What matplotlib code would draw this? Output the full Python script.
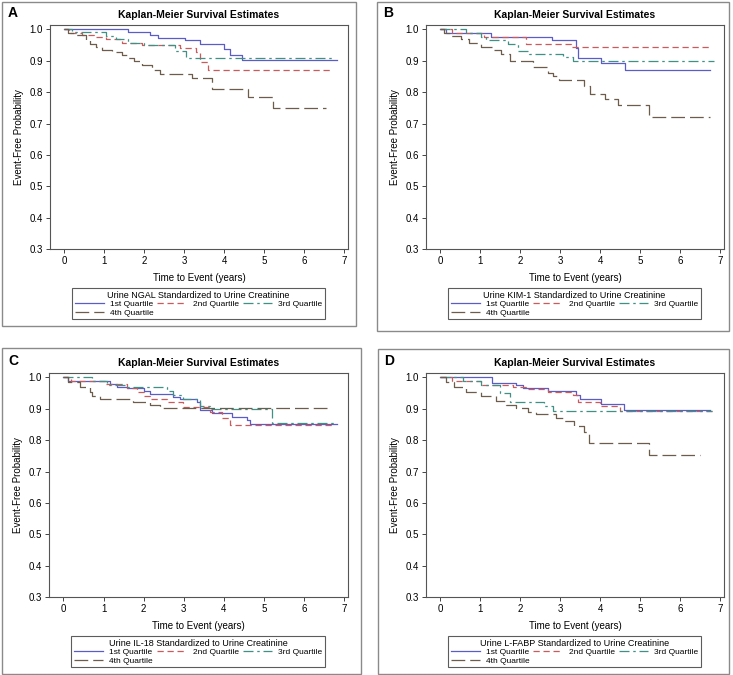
import matplotlib
matplotlib.use('Agg')
import matplotlib.pyplot as plt
from matplotlib.patches import Rectangle
from matplotlib.lines import Line2D

plt.rcParams['font.family'] = ['Liberation Sans', 'DejaVu Sans']

W, H = 733, 675

# survival steps: times (years) and event-free probability
A_q1_t = [0, 1.58, 2.14, 2.35, 3.02, 3.40, 4.00, 4.14, 4.43, 6.81]
A_q1_s = [1.0, 0.991, 0.983, 0.974, 0.965, 0.953, 0.937, 0.918, 0.901, 0.901]
A_q2_t = [0, 0.12, 0.45, 0.75, 1.05, 1.45, 1.95, 2.9, 3.3, 3.4, 3.6, 6.68]
A_q2_s = [1.0, 0.99, 0.981, 0.975, 0.968, 0.958, 0.951, 0.942, 0.928, 0.897, 0.872, 0.872]
A_q3_t = [0, 0.2, 1.05, 1.3, 1.6, 2.0, 2.76, 3.05, 6.77]
A_q3_s = [1.0, 0.992, 0.979, 0.968, 0.958, 0.951, 0.932, 0.908, 0.908]
A_q4_t = [0, 0.1, 0.3, 0.55, 0.65, 0.8, 0.95, 1.2, 1.45, 1.6, 1.75, 1.95, 2.2, 2.4, 3.2, 3.7, 4.6, 5.22, 6.55]
A_q4_s = [1.0, 0.99, 0.982, 0.965, 0.955, 0.944, 0.935, 0.928, 0.917, 0.908, 0.898, 0.887, 0.872, 0.857, 0.845, 0.81, 0.786, 0.749, 0.749]

B_q1_t = [0, 0.14, 1.27, 2.8, 3.38, 3.43, 4.02, 4.62, 6.75]
B_q1_s = [1.0, 0.99, 0.976, 0.965, 0.94, 0.91, 0.893, 0.87, 0.87]
B_q2_t = [0, 0.3, 1.05, 1.1, 2.14, 3.27, 6.8]
B_q2_s = [1.0, 0.99, 0.983, 0.976, 0.955, 0.943, 0.943]
B_q3_t = [0, 0.64, 1.02, 1.15, 1.68, 1.93, 2.22, 3.06, 3.31, 6.83]
B_q3_s = [1.0, 0.99, 0.976, 0.965, 0.955, 0.932, 0.922, 0.912, 0.9, 0.9]
B_q4_t = [0, 0.1, 0.27, 0.52, 0.72, 1.02, 1.31, 1.52, 1.73, 2.31, 2.68, 2.81, 2.97, 3.6, 3.73, 4.12, 4.43, 5.22, 6.75]
B_q4_s = [1.0, 0.99, 0.98, 0.968, 0.957, 0.945, 0.933, 0.92, 0.9, 0.88, 0.862, 0.85, 0.84, 0.82, 0.795, 0.778, 0.758, 0.72, 0.72]

C_q1_t = [0, 0.12, 1.16, 1.33, 1.58, 2.0, 2.16, 2.74, 2.9, 3.32, 3.4, 3.69, 4.2, 4.58, 4.65, 6.81]
C_q1_s = [1.0, 0.99, 0.98, 0.97, 0.965, 0.958, 0.948, 0.937, 0.93, 0.92, 0.895, 0.885, 0.875, 0.865, 0.851, 0.851]
C_q2_t = [0, 0.2, 1.04, 1.58, 1.83, 2.0, 2.16, 2.57, 2.99, 3.65, 3.95, 4.15, 6.68]
C_q2_s = [1.0, 0.99, 0.98, 0.965, 0.955, 0.94, 0.932, 0.922, 0.905, 0.89, 0.87, 0.848, 0.848]
C_q3_t = [0, 0.7, 1.08, 1.54, 2.57, 2.74, 2.99, 3.4, 3.65, 5.19, 6.81]
C_q3_s = [1.0, 0.99, 0.975, 0.968, 0.958, 0.945, 0.93, 0.91, 0.898, 0.855, 0.855]
C_q4_t = [0, 0.12, 0.42, 0.66, 0.7, 0.91, 1.74, 2.16, 2.41, 6.56]
C_q4_s = [1.0, 0.985, 0.97, 0.955, 0.94, 0.932, 0.923, 0.912, 0.903, 0.903]

D_q1_t = [0, 1.29, 1.89, 2.06, 2.68, 3.39, 3.48, 4.02, 4.6, 6.75]
D_q1_s = [1.0, 0.983, 0.975, 0.966, 0.958, 0.945, 0.93, 0.915, 0.897, 0.897]
D_q2_t = [0, 0.3, 1.02, 1.81, 2.14, 2.68, 3.31, 3.43, 3.98, 4.48, 6.8]
D_q2_s = [1.0, 0.99, 0.975, 0.968, 0.962, 0.955, 0.945, 0.922, 0.91, 0.892, 0.892]
D_q3_t = [0, 0.56, 1.02, 1.48, 1.73, 2.6, 2.81, 6.8]
D_q3_s = [1.0, 0.99, 0.975, 0.95, 0.92, 0.91, 0.893, 0.893]
D_q4_t = [0, 0.14, 0.35, 0.64, 1.02, 1.39, 1.64, 1.89, 2.18, 2.39, 2.89, 3.06, 3.35, 3.6, 3.71, 5.22, 6.48]
D_q4_s = [1.0, 0.985, 0.97, 0.952, 0.94, 0.925, 0.913, 0.902, 0.89, 0.883, 0.87, 0.86, 0.845, 0.825, 0.79, 0.753, 0.753]

quartiles = ['1st Quartile', '2nd Quartile', '3rd Quartile', '4th Quartile']
markers = ['NGAL', 'KIM-1', 'IL-18', 'L-FABP']
letters = ['A', 'B', 'C', 'D']
x_ticks = [0, 1, 2, 3, 4, 5, 6, 7]
y_ticks = [0.3, 0.4, 0.5, 0.6, 0.7, 0.8, 0.9, 1.0]

colors = ['#5c5cc8', '#cc5a5a', '#3f9085', '#6e5c4a']
styles = ['-', (0, (5, 3)), (0, (8, 3, 2, 3)), (0, (11, 4))]

panels = [
    [(A_q1_t, A_q1_s), (A_q2_t, A_q2_s), (A_q3_t, A_q3_s), (A_q4_t, A_q4_s)],
    [(B_q1_t, B_q1_s), (B_q2_t, B_q2_s), (B_q3_t, B_q3_s), (B_q4_t, B_q4_s)],
    [(C_q1_t, C_q1_s), (C_q2_t, C_q2_s), (C_q3_t, C_q3_s), (C_q4_t, C_q4_s)],
    [(D_q1_t, D_q1_s), (D_q2_t, D_q2_s), (D_q3_t, D_q3_s), (D_q4_t, D_q4_s)],
]

# pixel layout: outer box and axes box (left, top, right, bottom)
outer = [(2, 2, 356, 326), (377, 2, 729, 331), (2, 348, 361, 674), (378, 349, 729, 674)]
axbox = [(50, 25, 348, 249), (426, 25, 724, 249), (49, 373, 348, 597), (426, 373, 724, 597)]


def fx(x):
    return x / W


def fy(y):
    return 1 - y / H


fig = plt.figure(figsize=(W / 100, H / 100), dpi=100)

for i in range(4):
    ol, ot, orr, ob = outer[i]
    fig.patches.append(Rectangle((fx(ol), fy(ob)), (orr - ol) / W, (ob - ot) / H,
                                 transform=fig.transFigure, fill=False,
                                 edgecolor='#8a8a8a', linewidth=1.0))
    l, t, r, b = axbox[i]
    ax = fig.add_axes([fx(l), fy(b), (r - l) / W, (b - t) / H])
    for k in range(4):
        tt, ss = panels[i][k]
        ax.plot(tt, ss, drawstyle='steps-post', color=colors[k],
                linestyle=styles[k], linewidth=0.9)
    ax.set_xlim(-0.36, 7.09)
    ax.set_ylim(0.3, 1.014)
    ax.set_xticks(x_ticks)
    ax.set_yticks(y_ticks)
    ax.set_yticklabels(['%.1f' % v for v in y_ticks])
    ax.tick_params(labelsize=7, length=3, width=0.7, colors='#444444',
                   labelcolor='black', pad=2)
    for sp in ax.spines.values():
        sp.set_color('#555555')
        sp.set_linewidth(0.8)
    ax.set_xlabel('Time to Event (years)', fontsize=7, labelpad=5)
    ax.set_ylabel('Event-Free Probability', fontsize=7, labelpad=4)

    cx = (l + r) / 2
    fig.text(fx(cx), fy(t - 10), 'Kaplan-Meier Survival Estimates',
             ha='center', va='center', fontsize=7.5, fontweight='bold')
    fig.text(fx(ol + 6), fy(t - 12), letters[i], ha='left', va='center',
             fontsize=10, fontweight='bold')

    handles = [Line2D([], [], color=colors[k], linestyle=styles[k], linewidth=0.9)
               for k in range(4)]
    order = [0, 3, 1, 2]
    leg_l, leg_r = l + 22, r - 23
    leg_t = b + 39
    leg = ax.legend([handles[j] for j in order], [quartiles[j] for j in order],
                    title='Urine %s Standardized to Urine Creatinine' % markers[i],
                    ncol=3, loc='upper left', mode='expand',
                    bbox_to_anchor=(fx(leg_l), fy(leg_t), (leg_r - leg_l) / W, 0),
                    bbox_transform=fig.transFigure, fontsize=6, title_fontsize=6.5,
                    frameon=True, fancybox=False, borderpad=0.3, labelspacing=0.1,
                    handlelength=3.5, handletextpad=0.8, columnspacing=1.0,
                    borderaxespad=0)
    leg.get_frame().set_edgecolor('#333333')
    leg.get_frame().set_linewidth(0.8)

fig.savefig('out.png', dpi=100)
